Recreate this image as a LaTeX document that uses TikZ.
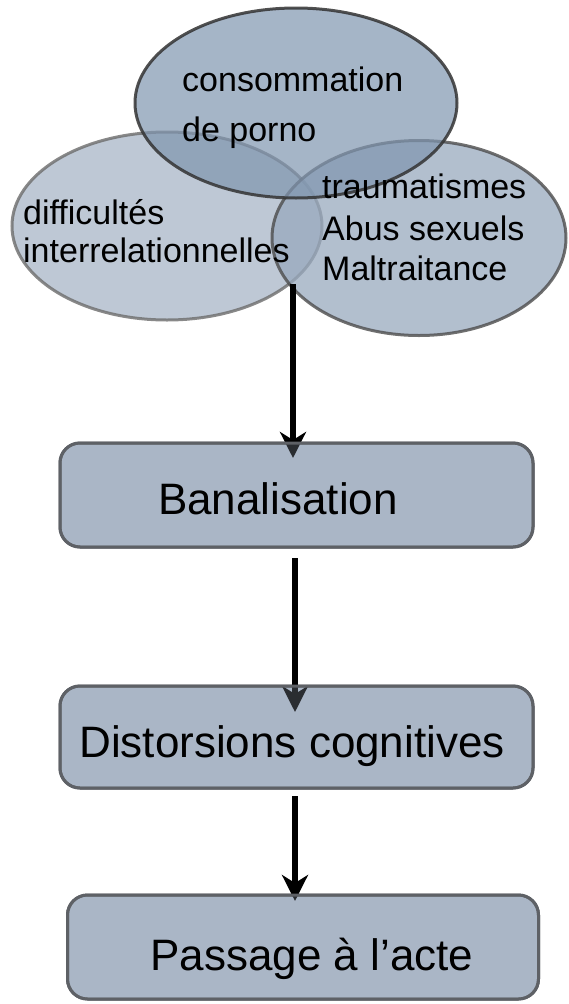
\documentclass[tikz,border=0pt]{standalone}
\usepackage{fontspec}
\setmainfont{Liberation Sans}
\usetikzlibrary{arrows.meta,shapes.geometric,calc}
\definecolor{boxfill}{HTML}{AAB6C6}
\definecolor{boxline}{HTML}{5E6166}
\definecolor{topfill}{HTML}{7F95AF}
\definecolor{leftfill}{HTML}{AEBACA}
\definecolor{rightfill}{HTML}{98A9BE}
\tikzset{
  small/.style={font=\fontsize{34}{40}\selectfont, inner sep=0pt, anchor=west},
  big/.style={font=\fontsize{44}{50}\selectfont, inner sep=0pt},
  blob/.style={ellipse, inner sep=0pt, line width=3pt},
  stepbox/.style={rectangle, rounded corners=20pt, draw=boxline, line width=3pt,
    fill=boxfill, inner sep=0pt, outer sep=0pt},
  veil/.style={fill=boxfill, fill opacity=0.25, rounded corners=20pt},
  rim/.style={draw=boxline, line width=3pt, rounded corners=20pt},
  arr/.style={line width=6pt, draw=black,
    -{Stealth[length=26pt, width=26pt, inset=8pt]}}
}
\begin{document}
\begin{tikzpicture}[x=1pt,y=-1pt]
\useasboundingbox (0,0) rectangle (568,1004);
% ellipses
\node[blob, draw=gray!85!black, draw opacity=0.8, fill=leftfill, fill opacity=0.8,
  minimum width=310pt, minimum height=188pt] (left) at (167,226) {};
\node[blob, draw=black!70, draw opacity=0.8, fill=rightfill, fill opacity=0.75,
  minimum width=294pt, minimum height=195pt] (right) at (419,238) {};
\node[blob, draw=black!80, draw opacity=0.85, fill=topfill, fill opacity=0.7,
  minimum width=322pt, minimum height=190pt] (top) at (296,103) {};
% ellipse texts
\node[small] (t1) at (182,79) {consommation};
\node[small] (t2) at (182,133) {de porno};
\node[small] (l1) at (23,212) {difficultés};
\node[small] (l2) at (23,250) {interrelationnelles};
\node[small] (r1) at (322,186) {traumatismes};
\node[small] (r2) at (322,228) {Abus sexuels};
\node[small] (r3) at (322,268) {Maltraitance};
% boxes
\node[stepbox, minimum width=473pt, minimum height=104pt] (ban) at (296.5,495) {};
\node[stepbox, minimum width=473pt, minimum height=102pt] (dist) at (296.5,737) {};
\node[stepbox, minimum width=471pt, minimum height=104pt] (pass) at (303,947) {};
% connectors
\coordinate (c1) at (293,284);
\coordinate (c2) at (295,547);
\coordinate (c3) at (295,788);
\draw[arr, shorten >=-15pt] (c1) -- (c1 |- ban.north);
\draw[arr, shorten <=11pt, shorten >=-26pt] (c2) -- (c2 |- dist.north);
\draw[arr, shorten <=8pt, shorten >=-6pt] (c3) -- (c3 |- pass.north);
% translucent box faces over the arrow tips
\foreach \b in {ban,dist,pass}{
  \path[veil] (\b.north west) rectangle (\b.south east);
  \path[rim] (\b.north west) rectangle (\b.south east);
}
\node[big] (banT) at (278,499) {Banalisation};
\node[big] (distT) at (292,746) {Distorsions cognitives};
\node[big] (passT) at (312,959) {Passage à l’acte};
\end{tikzpicture}
\end{document}
